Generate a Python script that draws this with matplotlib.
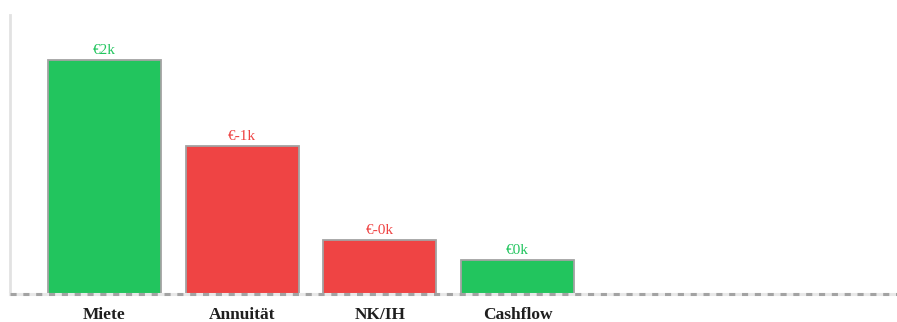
import matplotlib.pyplot as plt

categories = ["Miete", "Annuität", "NK/IH", "Cashflow"]
values = [2000, -1262, -455, 283]
labels = ["€2k", "€-1k", "€-0k", "€0k"]

GREEN = "#22c55e"
RED = "#ef4444"

fig = plt.figure(figsize=(8.97, 3.22), dpi=100)
ax = fig.add_axes([10 / 897, 28.5 / 322, 887 / 897, (293.5 - 15) / 322])

x = list(range(len(categories)))
heights = [abs(v) for v in values]
colors = [GREEN if v >= 0 else RED for v in values]

ax.bar(x, heights, width=0.82, color=colors, edgecolor="#a3a3a3", linewidth=1.3, zorder=2)

for xi, h, lab, c in zip(x, heights, labels, colors):
    ax.annotate(lab, (xi, h), xytext=(0, 2.5), textcoords="offset points",
                ha="center", va="bottom", color=c, fontsize=11,
                family="Liberation Serif")

ax.set_xlim(-0.686, 5.755)
ax.set_ylim(0, 2386)

# baseline: light solid line with darker dashes on top
ax.axhline(0, color="#e8e8e8", linewidth=2.2, zorder=3, clip_on=False)
ax.axhline(0, color="#a3a3a3", linewidth=2.2, linestyle=(0, (2.0, 2.2)), zorder=4, clip_on=False)

for s in ["top", "right", "bottom"]:
    ax.spines[s].set_visible(False)
ax.spines["left"].set_color("#e2e2e2")
ax.spines["left"].set_linewidth(2)

ax.set_yticks([])
ax.set_xticks(x)
ax.set_xticklabels(categories, family="Liberation Serif", fontweight="bold",
                   fontsize=12.5, color="#1f1f1f")
ax.tick_params(axis="x", length=0, pad=9.5)

fig.savefig("out.png", dpi=100)
